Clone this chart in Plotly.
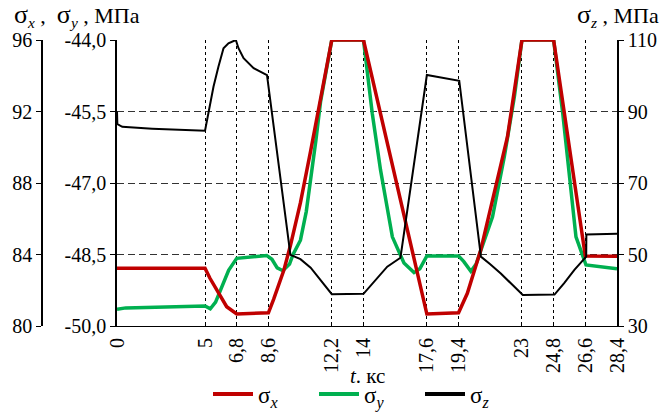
import plotly.graph_objects as go

# ---- data ----
t_x = [0, 5, 5.28, 5.85, 6.23, 6.8, 8.6, 8.9, 9.47, 9.85, 10.42, 11.0, 11.6, 12.2, 14.0,
       17.6, 19.4, 19.9, 20.66, 21.42, 22.18, 23.0, 24.8, 26.6, 28.4]
sigma_x = [83.23, 83.23, 82.67, 81.73, 81.08, 80.67, 80.74, 81.5, 83.1, 84.5, 86.9, 89.8, 92.9, 96.0, 96.0,
           80.67, 80.74, 81.83, 84.25, 87.42, 90.59, 96.0, 96.0, 83.92, 83.9]

t_y = [0, 0.5, 5, 5.3, 5.6, 5.87, 6.34, 6.8, 8.5, 8.8, 9.1, 9.42, 9.8, 10.0, 10.42, 10.75, 11.0, 11.3,
       11.56, 11.9, 12.2, 14.0, 14.5, 14.97, 15.64, 16.3, 16.87, 17.2, 17.6, 19.4, 19.7, 20.1, 20.4,
       20.67, 21.33, 22.0, 22.57, 23.0, 24.8, 25.32, 25.7, 26.07, 26.64, 28.4]
sigma_y = [-49.65, -49.62, -49.58, -49.64, -49.5, -49.24, -48.83, -48.58, -48.52, -48.6, -48.78, -48.84,
           -48.7, -48.5, -48.2, -47.6, -46.95, -46.1, -45.3, -44.6, -44.0, -44.0, -45.54, -46.73, -48.13,
           -48.68, -48.88, -48.8, -48.53, -48.53, -48.65, -48.85, -48.7, -48.41, -47.71, -46.45, -45.19,
           -44.0, -44.0, -45.54, -46.94, -48.13, -48.72, -48.8]

t_z = [0, 0.02, 0.3, 2, 5, 5.28, 5.48, 5.76, 6.05, 6.33, 6.75, 6.9, 7.19, 7.76, 8.52, 9.85, 10.42, 11.0,
       11.56, 12.2, 14.0, 14.78, 15.35, 16.1, 17.6, 19.44, 20.67, 21.2, 21.8, 22.4, 23.05, 24.85, 25.4,
       25.98, 26.65, 26.66, 28.4]
sigma_z = [90.0, 86.5, 85.7, 85.2, 84.6, 91.3, 96.9, 102.5, 107.7, 109.1, 110.0, 107.7, 104.9, 102.1, 100.2,
           49.9, 48.7, 46.3, 42.8, 38.9, 39.0, 43.3, 46.6, 49.1, 100.2, 98.6, 49.4, 47.3, 44.7, 41.8, 38.7,
           38.8, 42.0, 45.7, 49.4, 55.6, 55.8]

x_ticks = [0, 5, 6.8, 8.6, 12.2, 14, 17.6, 19.4, 23, 24.8, 26.6, 28.4]
x_ticktext = ["0", "5", "6,8", "8,6", "12,2", "14", "17,6", "19,4", "23", "24,8", "26,6", "28,4"]
ysig_ticks = [-50.0, -48.5, -47.0, -45.5, -44.0]
ysig_text = ["-50,0", "-48,5", "-47,0", "-45,5", "-44,0"]
xsig_ticks = [80, 84, 88, 92, 96]
zsig_ticks = [30, 50, 70, 90, 110]

series_names = ["σ<sub><i>x</i></sub>", "σ<sub><i>y</i></sub>", "σ<sub><i>z</i></sub>"]
series_colors = ["#C00000", "#00B050", "black"]

W, H = 663, 412
L_PX, R_PX, T_PX, B_PX = 117, 617, 40, 326
FONT = "'Liberation Serif', 'Times New Roman', 'DejaVu Serif', serif"

fig = go.Figure()
fig.add_trace(go.Scatter(x=t_y, y=sigma_y, mode="lines", yaxis="y",
                         line=dict(color=series_colors[1], width=3.5), showlegend=False))
fig.add_trace(go.Scatter(x=t_x, y=sigma_x, mode="lines", yaxis="y2",
                         line=dict(color=series_colors[0], width=3.5), showlegend=False))
fig.add_trace(go.Scatter(x=t_z, y=sigma_z, mode="lines", yaxis="y3",
                         line=dict(color=series_colors[2], width=2), showlegend=False))
# legend entries (no data; thicker legend strokes as in the reference)
for i, (nm, col) in enumerate(zip(series_names, series_colors)):
    fig.add_trace(go.Scatter(x=[None], y=[None], mode="lines", name=nm,
                             line=dict(color=col, width=4), legendrank=i + 1))

tickfont = dict(family=FONT, size=20, color="black")
fig.update_layout(
    width=W, height=H,
    margin=dict(l=0, r=0, t=T_PX, b=H - B_PX, pad=0, autoexpand=False),
    paper_bgcolor="white", plot_bgcolor="white",
    font=dict(family=FONT, size=20, color="black"),
    showlegend=True,
    legend=dict(orientation="h", x=208 / W, xanchor="left", y=(B_PX - 394) / (B_PX - T_PX),
                yanchor="middle", font=dict(family=FONT, size=23), itemwidth=40,
                entrywidth=51, entrywidthmode="pixels", bgcolor="rgba(0,0,0,0)",
                tracegroupgap=0, borderwidth=0),
    xaxis=dict(range=[0, 28.4], domain=[L_PX / W, R_PX / W], tickvals=x_ticks, ticktext=x_ticktext,
               tickangle=-90, ticks="inside", ticklen=4, tickcolor="black", showline=True,
               linecolor="black", linewidth=1, showgrid=True, gridcolor="black", gridwidth=1,
               griddash="3px,3px", zeroline=False, tickfont=tickfont, ticklabelstandoff=3),
    yaxis=dict(range=[-50, -44], tickvals=ysig_ticks, ticktext=ysig_text, ticks="outside", ticklen=5,
               tickcolor="black", showline=True, linecolor="black", linewidth=1.5, showgrid=True,
               gridcolor="#333333", gridwidth=1, griddash="7px,4px", zeroline=False, tickfont=tickfont,
               anchor="x"),
    yaxis2=dict(range=[80, 96], tickvals=xsig_ticks, overlaying="y", anchor="free", position=42 / W,
                side="left", ticks="outside", ticklen=5, tickcolor="black", showline=True,
                linecolor="black", linewidth=1.5, showgrid=False, zeroline=False, tickfont=tickfont),
    yaxis3=dict(range=[30, 110], tickvals=zsig_ticks, overlaying="y", anchor="x", side="right",
                ticks="outside", ticklen=5, tickcolor="black", showline=True, linecolor="black",
                linewidth=1.5, showgrid=False, zeroline=False, tickfont=tickfont),
)

ph = B_PX - T_PX
def py(p):
    return (B_PX - p) / ph

sig = '<span style="font-size:26px">σ</span>'
fig.add_annotation(text=f"{sig}<sub><i>x</i></sub> ,  {sig}<sub><i>y</i></sub> , МПа",
                   x=12 / W, y=py(16), xref="paper", yref="paper", xanchor="left", yanchor="middle",
                   showarrow=False, font=dict(family=FONT, size=22))
fig.add_annotation(text=f"{sig}<sub><i>z</i></sub> , МПа",
                   x=661 / W, y=py(16), xref="paper", yref="paper", xanchor="right", yanchor="middle",
                   showarrow=False, font=dict(family=FONT, size=22))
fig.add_annotation(text="<i>t</i>. кс", x=367 / W, y=py(376), xref="paper", yref="paper",
                   xanchor="center", yanchor="middle", showarrow=False, font=dict(family=FONT, size=21))

fig.write_html("out.html")
